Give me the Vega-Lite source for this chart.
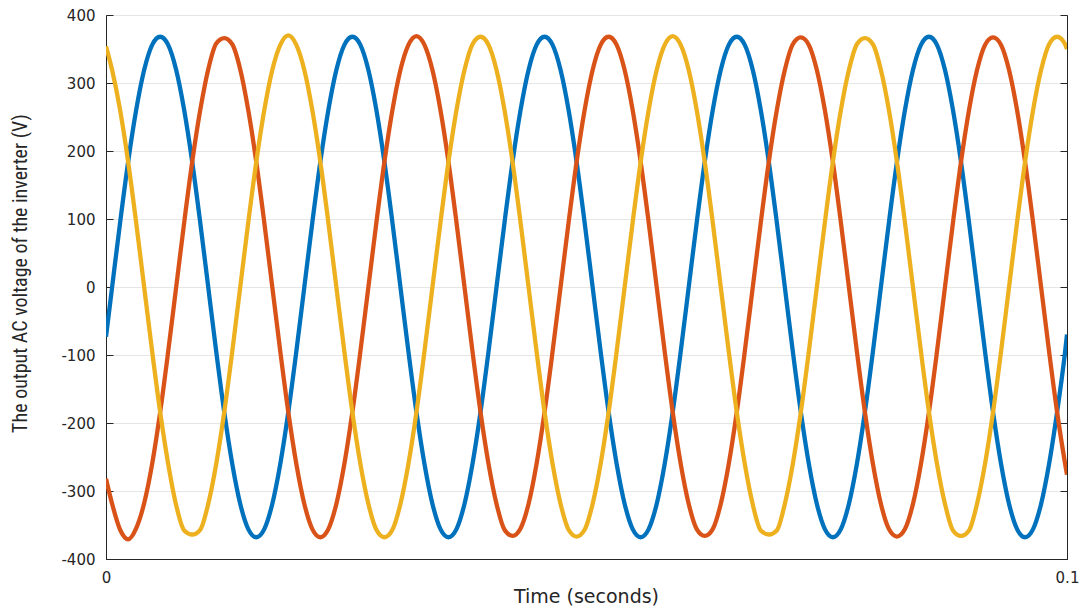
{
  "$schema": "https://vega.github.io/schema/vega-lite/v6.json",
  "width": 961,
  "height": 544,
  "autosize": {"type": "none"},
  "padding": {"left": 106, "top": 15, "right": 17, "bottom": 51},
  "background": "white",
  "config": {"view": {"stroke": "#9a9a9a", "strokeWidth": 1}},
  "data": {"values": [
    {"t": 0, "a": -73, "b": -282, "c": 354},
    {"t": 0.000637, "a": 0, "b": -319, "c": 319},
    {"t": 0.00147, "a": 95, "b": -357, "c": 260},
    {"t": 0.002304, "a": 184, "b": -371, "c": 184},
    {"t": 0.003137, "a": 260, "b": -355, "c": 95},
    {"t": 0.00397, "a": 319, "b": -318, "c": 0},
    {"t": 0.004804, "a": 356, "b": -260, "c": -95},
    {"t": 0.005637, "a": 368, "b": -184, "c": -184},
    {"t": 0.00647, "a": 356, "b": -95, "c": -260},
    {"t": 0.007304, "a": 319, "b": 0, "c": -321},
    {"t": 0.008137, "a": 260, "b": 95, "c": -358},
    {"t": 0.00897, "a": 184, "b": 184, "c": -364},
    {"t": 0.009804, "a": 95, "b": 260, "c": -357},
    {"t": 0.010637, "a": 0, "b": 320, "c": -319},
    {"t": 0.01147, "a": -95, "b": 358, "c": -260},
    {"t": 0.012304, "a": -184, "b": 366, "c": -184},
    {"t": 0.013137, "a": -260, "b": 357, "c": -95},
    {"t": 0.01397, "a": -319, "b": 320, "c": 0},
    {"t": 0.014804, "a": -356, "b": 260, "c": 95},
    {"t": 0.015637, "a": -368, "b": 184, "c": 184},
    {"t": 0.01647, "a": -356, "b": 95, "c": 260},
    {"t": 0.017304, "a": -319, "b": 0, "c": 319},
    {"t": 0.018137, "a": -260, "b": -95, "c": 356},
    {"t": 0.01897, "a": -184, "b": -184, "c": 370},
    {"t": 0.019804, "a": -95, "b": -260, "c": 356},
    {"t": 0.020637, "a": 0, "b": -319, "c": 319},
    {"t": 0.02147, "a": 95, "b": -356, "c": 260},
    {"t": 0.022304, "a": 184, "b": -368, "c": 184},
    {"t": 0.023137, "a": 260, "b": -356, "c": 95},
    {"t": 0.02397, "a": 319, "b": -319, "c": 0},
    {"t": 0.024804, "a": 356, "b": -260, "c": -95},
    {"t": 0.025637, "a": 368, "b": -184, "c": -184},
    {"t": 0.02647, "a": 356, "b": -95, "c": -260},
    {"t": 0.027304, "a": 319, "b": 0, "c": -319},
    {"t": 0.028137, "a": 260, "b": 95, "c": -357},
    {"t": 0.02897, "a": 184, "b": 184, "c": -368},
    {"t": 0.029804, "a": 95, "b": 260, "c": -357},
    {"t": 0.030637, "a": 0, "b": 319, "c": -319},
    {"t": 0.03147, "a": -95, "b": 356, "c": -260},
    {"t": 0.032304, "a": -184, "b": 369, "c": -184},
    {"t": 0.033137, "a": -260, "b": 356, "c": -95},
    {"t": 0.03397, "a": -319, "b": 319, "c": 0},
    {"t": 0.034804, "a": -356, "b": 260, "c": 95},
    {"t": 0.035637, "a": -368, "b": 184, "c": 184},
    {"t": 0.03647, "a": -356, "b": 95, "c": 260},
    {"t": 0.037304, "a": -319, "b": 0, "c": 319},
    {"t": 0.038137, "a": -260, "b": -95, "c": 357},
    {"t": 0.03897, "a": -184, "b": -184, "c": 368},
    {"t": 0.039804, "a": -95, "b": -260, "c": 356},
    {"t": 0.040637, "a": 0, "b": -319, "c": 319},
    {"t": 0.04147, "a": 95, "b": -357, "c": 260},
    {"t": 0.042304, "a": 184, "b": -366, "c": 184},
    {"t": 0.043137, "a": 260, "b": -355, "c": 95},
    {"t": 0.04397, "a": 319, "b": -319, "c": 0},
    {"t": 0.044804, "a": 356, "b": -260, "c": -95},
    {"t": 0.045637, "a": 368, "b": -184, "c": -184},
    {"t": 0.04647, "a": 356, "b": -95, "c": -260},
    {"t": 0.047304, "a": 319, "b": 0, "c": -319},
    {"t": 0.048137, "a": 260, "b": 95, "c": -357},
    {"t": 0.04897, "a": 184, "b": 184, "c": -367},
    {"t": 0.049804, "a": 95, "b": 260, "c": -357},
    {"t": 0.050637, "a": 0, "b": 319, "c": -319},
    {"t": 0.05147, "a": -95, "b": 356, "c": -260},
    {"t": 0.052304, "a": -184, "b": 368, "c": -184},
    {"t": 0.053137, "a": -260, "b": 356, "c": -95},
    {"t": 0.05397, "a": -319, "b": 319, "c": 0},
    {"t": 0.054804, "a": -356, "b": 260, "c": 95},
    {"t": 0.055637, "a": -368, "b": 184, "c": 184},
    {"t": 0.05647, "a": -356, "b": 95, "c": 260},
    {"t": 0.057304, "a": -319, "b": 0, "c": 319},
    {"t": 0.058137, "a": -260, "b": -95, "c": 356},
    {"t": 0.05897, "a": -184, "b": -184, "c": 369},
    {"t": 0.059804, "a": -95, "b": -260, "c": 356},
    {"t": 0.060637, "a": 0, "b": -319, "c": 319},
    {"t": 0.06147, "a": 95, "b": -356, "c": 260},
    {"t": 0.062304, "a": 184, "b": -366, "c": 184},
    {"t": 0.063137, "a": 260, "b": -356, "c": 95},
    {"t": 0.06397, "a": 319, "b": -319, "c": 0},
    {"t": 0.064804, "a": 356, "b": -260, "c": -95},
    {"t": 0.065637, "a": 368, "b": -184, "c": -184},
    {"t": 0.06647, "a": 356, "b": -95, "c": -260},
    {"t": 0.067304, "a": 319, "b": 0, "c": -320},
    {"t": 0.068137, "a": 260, "b": 95, "c": -358},
    {"t": 0.06897, "a": 184, "b": 184, "c": -364},
    {"t": 0.069804, "a": 95, "b": 260, "c": -358},
    {"t": 0.070637, "a": 0, "b": 319, "c": -319},
    {"t": 0.07147, "a": -95, "b": 357, "c": -260},
    {"t": 0.072304, "a": -184, "b": 367, "c": -184},
    {"t": 0.073137, "a": -260, "b": 356, "c": -95},
    {"t": 0.07397, "a": -319, "b": 319, "c": 0},
    {"t": 0.074804, "a": -356, "b": 260, "c": 95},
    {"t": 0.075637, "a": -368, "b": 184, "c": 184},
    {"t": 0.07647, "a": -356, "b": 95, "c": 260},
    {"t": 0.077304, "a": -319, "b": 0, "c": 319},
    {"t": 0.078137, "a": -260, "b": -95, "c": 357},
    {"t": 0.07897, "a": -184, "b": -184, "c": 366},
    {"t": 0.079804, "a": -95, "b": -260, "c": 357},
    {"t": 0.080637, "a": 0, "b": -319, "c": 319},
    {"t": 0.08147, "a": 95, "b": -356, "c": 260},
    {"t": 0.082304, "a": 184, "b": -367, "c": 184},
    {"t": 0.083137, "a": 260, "b": -356, "c": 95},
    {"t": 0.08397, "a": 319, "b": -319, "c": 0},
    {"t": 0.084804, "a": 356, "b": -260, "c": -95},
    {"t": 0.085637, "a": 368, "b": -184, "c": -184},
    {"t": 0.08647, "a": 356, "b": -95, "c": -260},
    {"t": 0.087304, "a": 319, "b": 0, "c": -319},
    {"t": 0.088137, "a": 260, "b": 95, "c": -358},
    {"t": 0.08897, "a": 184, "b": 184, "c": -366},
    {"t": 0.089804, "a": 95, "b": 260, "c": -358},
    {"t": 0.090637, "a": 0, "b": 319, "c": -319},
    {"t": 0.09147, "a": -95, "b": 356, "c": -260},
    {"t": 0.092304, "a": -184, "b": 367, "c": -184},
    {"t": 0.093137, "a": -260, "b": 356, "c": -95},
    {"t": 0.09397, "a": -319, "b": 319, "c": 0},
    {"t": 0.094804, "a": -356, "b": 260, "c": 95},
    {"t": 0.095637, "a": -368, "b": 184, "c": 184},
    {"t": 0.09647, "a": -356, "b": 95, "c": 260},
    {"t": 0.097304, "a": -319, "b": 0, "c": 319},
    {"t": 0.098137, "a": -260, "b": -95, "c": 357},
    {"t": 0.09897, "a": -184, "b": -184, "c": 368},
    {"t": 0.099804, "a": -95, "b": -260, "c": 357},
    {"t": 0.1, "a": -70, "b": -276, "c": 350}
  ]},
  "transform": [{"fold": ["a", "b", "c"], "as": ["s", "v"]}],
  "resolve": {"axis": {"y": "independent"}},
  "layer": [
    {
      "mark": {"type": "line", "strokeWidth": 4.3, "interpolate": "monotone", "clip": true},
      "encoding": {
        "x": {
          "field": "t", "type": "quantitative",
          "scale": {"domain": [0, 0.1], "nice": false},
          "axis": {
            "values": [0, 0.1], "labelExpr": "'' + datum.value", "grid": false,
            "labelFlush": false, "labelOverlap": false,
            "domainColor": "#262626", "tickColor": "#262626", "tickSize": -7,
            "labelPadding": 18, "labelFont": "DejaVu Sans", "labelFontSize": 15, "labelColor": "#262626",
            "title": "Time (seconds)", "titleFont": "DejaVu Sans", "titleFontSize": 19,
            "titleFontWeight": "normal", "titleColor": "#262626",
            "titleX": 480, "titleY": 37, "titleAlign": "center", "titleBaseline": "middle"
          }
        },
        "y": {
          "field": "v", "type": "quantitative",
          "scale": {"domain": [-400, 400], "nice": false},
          "axis": {
            "values": [-400, -300, -200, -100, 0, 100, 200, 300, 400], "labelExpr": "'' + datum.value",
            "grid": true, "gridColor": "#e6e6e6",
            "domainColor": "#262626", "tickColor": "#262626", "tickSize": -7,
            "labelPadding": 18, "labelFont": "DejaVu Sans", "labelFontSize": 15, "labelColor": "#262626",
            "title": "The output AC voltage of the inverter (V)",
            "titleFont": "Liberation Sans Narrow, Roboto Condensed, Liberation Sans, sans-serif", "titleFontSize": 20,
            "titleFontWeight": "normal", "titleColor": "#262626",
            "titleX": -86, "titleY": 258, "titleAngle": -90, "titleAlign": "center", "titleBaseline": "middle"
          }
        },
        "color": {
          "field": "s", "type": "nominal",
          "scale": {"domain": ["a", "b", "c"], "range": ["#0072BD", "#D95319", "#EDB120"]},
          "legend": null
        }
      }
    },
    {
      "mark": {"type": "line", "strokeOpacity": 0, "clip": true},
      "encoding": {
        "x": {"field": "t", "type": "quantitative"},
        "y": {
          "field": "v", "type": "quantitative",
          "axis": {
            "orient": "right", "values": [-400, -300, -200, -100, 0, 100, 200, 300, 400],
            "labels": false, "grid": false, "title": null,
            "domainColor": "#262626", "tickColor": "#262626", "tickSize": -7
          }
        },
        "detail": {"field": "s"}
      }
    }
  ]
}
